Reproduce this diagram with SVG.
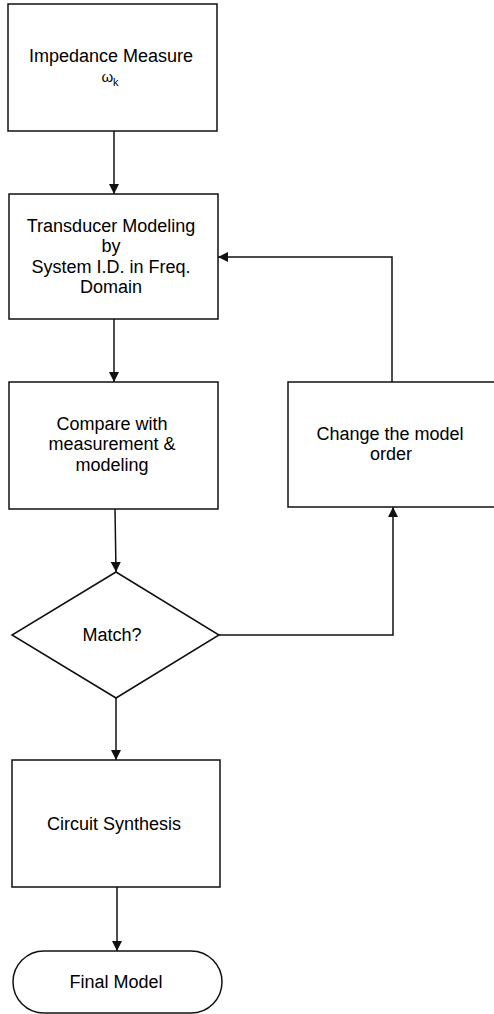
<svg xmlns="http://www.w3.org/2000/svg" width="494" height="1014" viewBox="0 0 494 1014">
<style>
.box{fill:#fff;stroke:#111;stroke-width:1.5}
.t{font-family:"Liberation Sans",Arial,sans-serif;font-size:18px;fill:#000;text-anchor:middle}
.c{fill:none;stroke:#111;stroke-width:1.5}
</style>
<defs>
<marker id="ah" viewBox="0 0 10 10" refX="10" refY="5" markerWidth="10" markerHeight="10" markerUnits="userSpaceOnUse" orient="auto">
<path d="M0,0 L10,5 L0,10 z" fill="#111"/>
</marker>
</defs>
<rect width="494" height="1014" fill="#fff"/>
<g id="connectors">
<line class="c" x1="114" y1="131" x2="114" y2="194" marker-end="url(#ah)"/>
<line class="c" x1="114" y1="319" x2="114" y2="382" marker-end="url(#ah)"/>
<line class="c" x1="115" y1="509" x2="116" y2="572" marker-end="url(#ah)"/>
<line class="c" x1="116" y1="698" x2="116" y2="760" marker-end="url(#ah)"/>
<line class="c" x1="117" y1="887" x2="117" y2="951" marker-end="url(#ah)"/>
<polyline class="c" points="219,635 393,635 393,507" marker-end="url(#ah)"/>
<polyline class="c" points="392,382 392,257 218,257" marker-end="url(#ah)"/>
</g>
<g id="impedance">
<rect class="box" x="8" y="4" width="209" height="127"/>
<text class="t" x="111" y="62">Impedance Measure</text>
<text class="t" x="110" y="82" style="font-size:15px">ω<tspan dy="4" style="font-size:11px">k</tspan></text>
</g>
<g id="transducer">
<rect class="box" x="9" y="194" width="209" height="125"/>
<text class="t" x="111" y="232">Transducer Modeling</text>
<text class="t" x="111" y="252">by</text>
<text class="t" x="111" y="273">System I.D. in Freq.</text>
<text class="t" x="111" y="293">Domain</text>
</g>
<g id="compare">
<rect class="box" x="9" y="382" width="209" height="127"/>
<text class="t" x="112" y="430">Compare with</text>
<text class="t" x="112" y="450">measurement &amp;</text>
<text class="t" x="112" y="471">modeling</text>
</g>
<g id="change">
<rect class="box" x="288" y="382" width="215" height="125"/>
<text class="t" x="390" y="440">Change the model</text>
<text class="t" x="391" y="460">order</text>
</g>
<g id="match">
<polygon class="box" points="116,572 219,635 116,698 12,635"/>
<text class="t" x="112" y="641">Match?</text>
</g>
<g id="synthesis">
<rect class="box" x="12" y="760" width="208" height="127"/>
<text class="t" x="114" y="830">Circuit Synthesis</text>
</g>
<g id="final">
<rect class="box" x="13" y="951" width="209" height="62" rx="31" ry="31"/>
<text class="t" x="116" y="988">Final Model</text>
</g>
</svg>
